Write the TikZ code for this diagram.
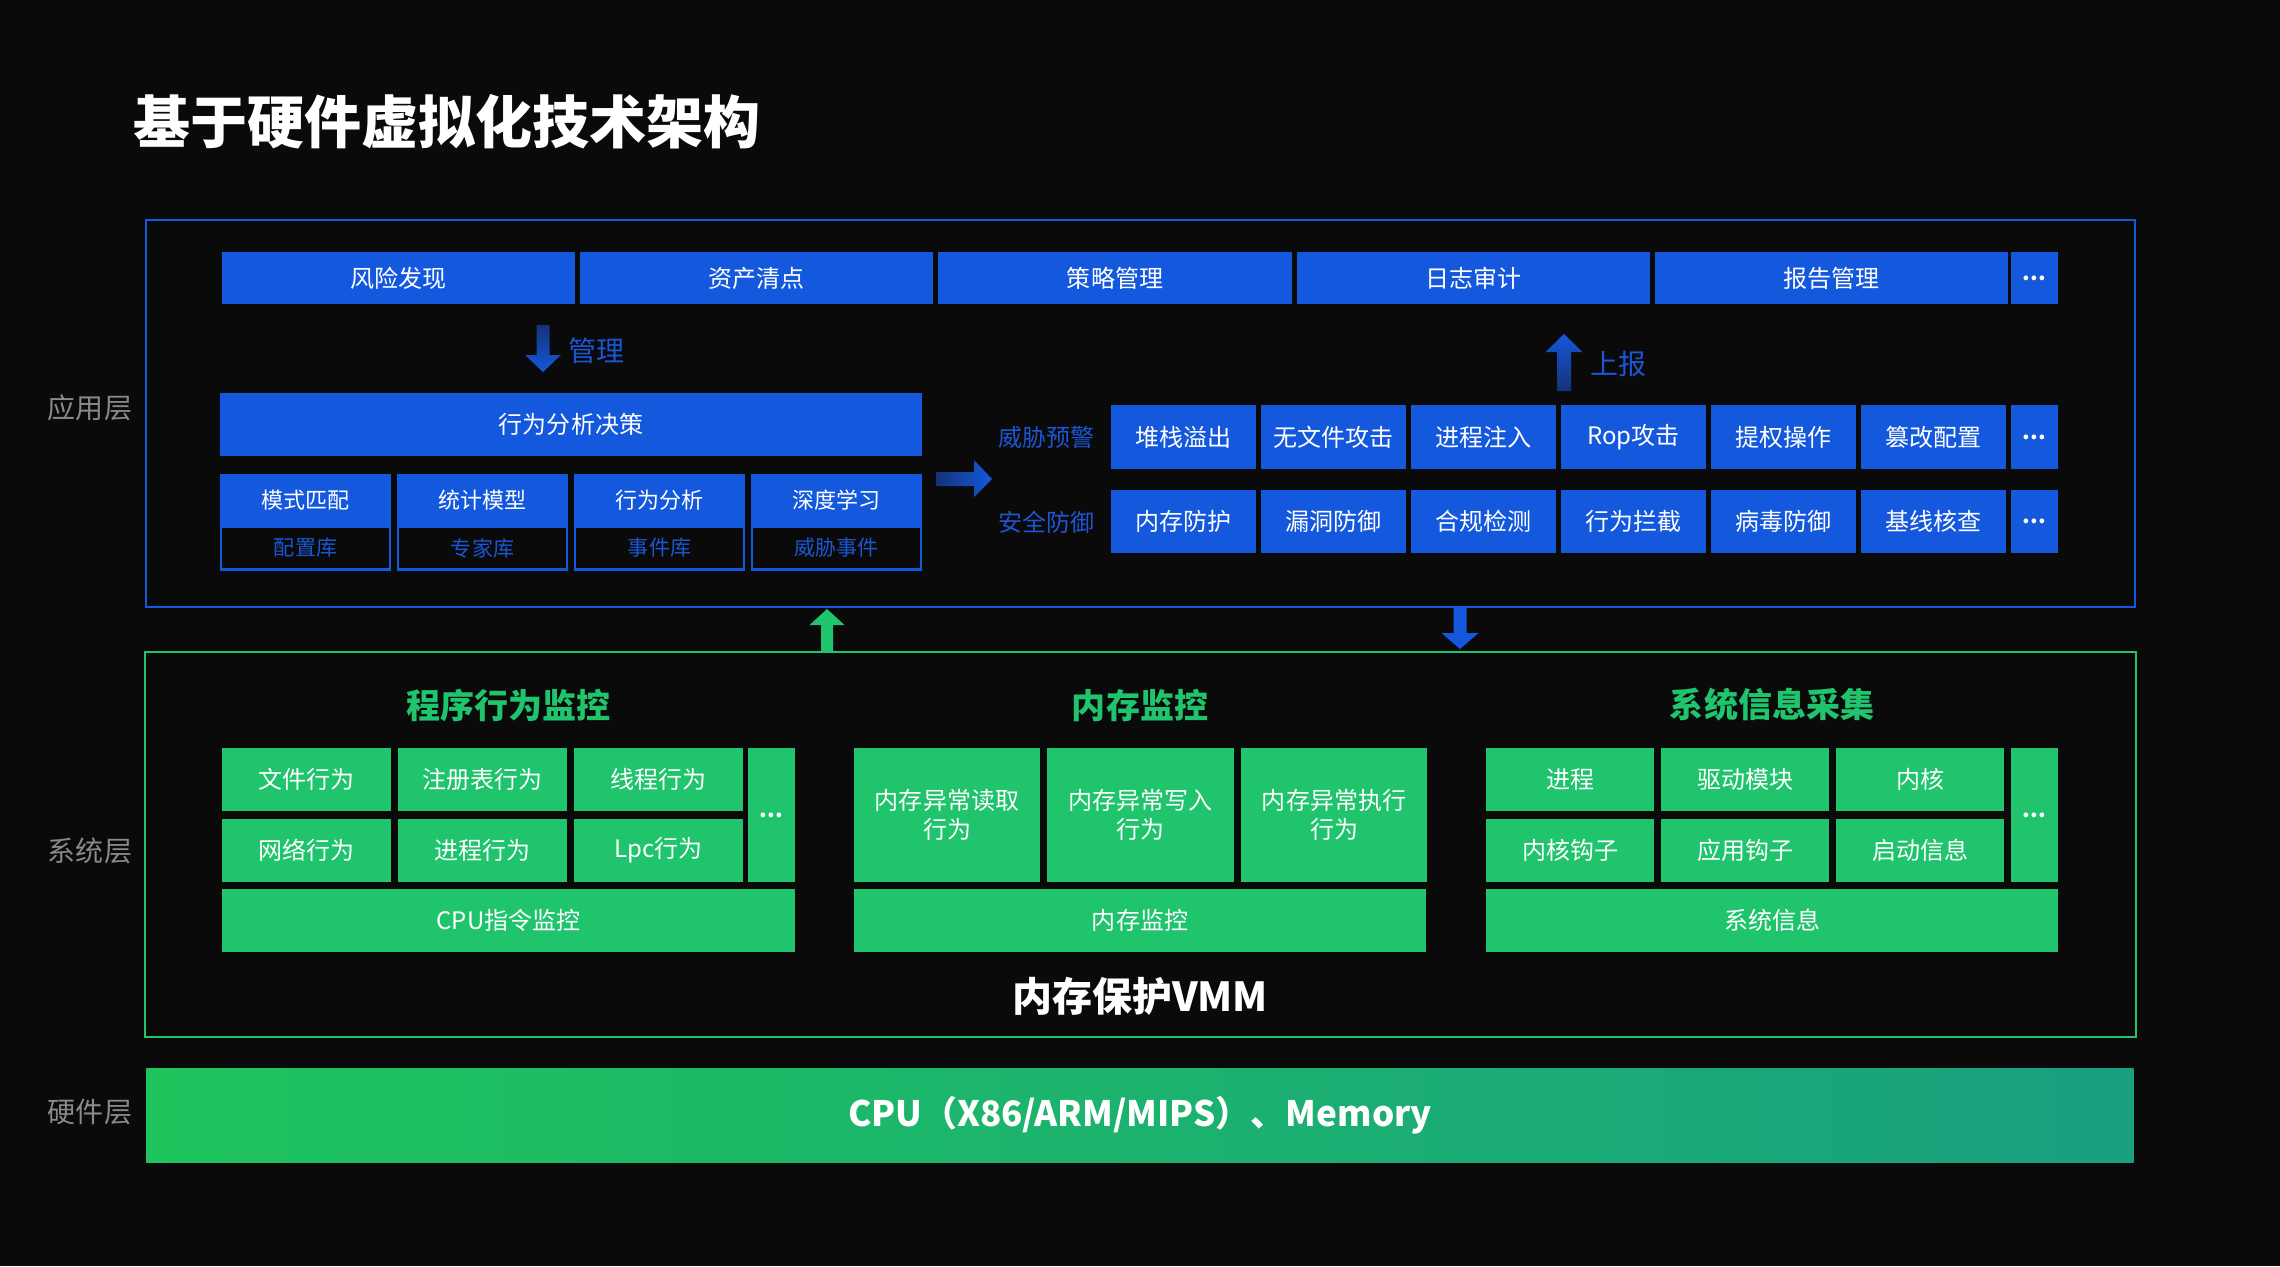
\documentclass[tikz,border=0pt]{standalone}
\usepackage{fontspec}
\setmainfont{Noto Sans CJK SC}
\usepackage{tikz}

\definecolor{azul}{RGB}{20,88,221}
\definecolor{azultexto}{RGB}{28,86,212}
\definecolor{azuloscuro}{RGB}{22,50,120}
\definecolor{verde}{RGB}{31,196,108}
\definecolor{verdeA}{RGB}{31,196,92}
\definecolor{verdeB}{RGB}{24,160,128}
\definecolor{fondo}{RGB}{10,10,10}
\definecolor{gris}{RGB}{138,138,138}

%tamano de letra en pixeles de la imagen
\newcommand{\px}[1]{\fontsize{\fpeval{#1*0.2845}pt}{\fpeval{#1*0.3414}pt}\selectfont}

\begin{document}
\begin{tikzpicture}[x=0.01cm,y=-0.01cm,
  caja/.style={fill=azul,text=white,inner sep=0pt,font=\px{24}},
  cajaverde/.style={fill=verde,text=white,inner sep=0pt,font=\px{24},align=center},
  puntos/.style={font=\bfseries\px{22},text depth=0pt},
  etiqueta/.style={text=azultexto,inner sep=0pt,font=\px{24}},
  capa/.style={text=gris,inner sep=0pt,font=\px{28}},
  seccion/.style={text=verde,inner sep=0pt,font=\bfseries\px{34}}]

%fondo negro de toda la lamina
\fill[fondo] (0,0) rectangle (2280,1266);
\useasboundingbox (0,0) rectangle (2280,1266);

%Titulo
\node[anchor=west,text=white,inner sep=0pt,font=\bfseries\px{57}] (titulo) at (133,122) {基于硬件虚拟化技术架构};

%Nombre de cada capa
\node[capa] (capaapp) at (90,408) {应用层};
\node[capa] (capasis) at (90,851) {系统层};
\node[capa] (capahw) at (90,1112) {硬件层};

%Marco de la capa de aplicacion
\node[draw=azul,line width=0.6pt,minimum width=19.87cm,minimum height=3.87cm] (marcoapp) at (1140.5,413.5) {};

%Fila superior de gestion
\foreach \t [count=\i from 0] in {风险发现,资产清点,策略管理,日志审计,报告管理}
	\node[caja,minimum width=3.53cm,minimum height=0.52cm] (sup\i) at (398.5+358.25*\i,278) {\t};
\node[caja,puntos,minimum width=0.47cm,minimum height=0.52cm] (supmas) at (2034.5,278) {...};

%Flecha de gestion hacia abajo
\shade[top color=azuloscuro,bottom color=azul] (536.5,325) -- (549.5,325) -- (549.5,355) -- (561,355) -- (543,372) -- (525,355) -- (536.5,355) -- cycle;
\node[etiqueta,anchor=west,font=\px{28}] (gestion) at (568,351) {管理};

%Bloque de decision
\node[caja,minimum width=7.02cm,minimum height=0.63cm] (decision) at (571,424.5) {行为分析决策};

%Modelos con su base debajo
\foreach \t/\b [count=\i from 0] in {模式匹配/配置库,统计模型/专家库,行为分析/事件库,深度学习/威胁事件}{
	\node[draw=azul,line width=0.6pt,inner sep=0pt,minimum width=1.69cm,minimum height=0.43cm,text=azultexto,font=\px{21}] (base\i) at (305.5+177*\i,548) {\b};
	\node[caja,font=\px{22},minimum width=1.71cm,minimum height=0.53cm] (modelo\i) at (305.5+177*\i,500.5) {\t};
}

%Flecha hacia la derecha
\shade[left color=azuloscuro,right color=azul] (936,472) -- (974,472) -- (974,460) -- (992,479) -- (974,497) -- (974,486) -- (936,486) -- cycle;

%Amenazas y defensas
\node[etiqueta,anchor=east] (alerta) at (1095,437) {威胁预警};
\node[etiqueta,anchor=east] (defensa) at (1095,522) {安全防御};
\foreach \t [count=\i from 0] in {堆栈溢出,无文件攻击,进程注入,Rop攻击,提权操作,篡改配置}
	\node[caja,minimum width=1.45cm,minimum height=0.64cm] (ame\i) at (1183.5+150*\i,437) {\t};
\node[caja,puntos,minimum width=0.47cm,minimum height=0.64cm] (amemas) at (2034.5,437) {...};
\foreach \t [count=\i from 0] in {内存防护,漏洞防御,合规检测,行为拦截,病毒防御,基线核查}
	\node[caja,minimum width=1.45cm,minimum height=0.63cm] (def\i) at (1183.5+150*\i,521.5) {\t};
\node[caja,puntos,minimum width=0.47cm,minimum height=0.63cm] (defmas) at (2034.5,521.5) {...};

%Flecha de reporte hacia arriba
\shade[top color=azul,bottom color=azuloscuro] (1564,334) -- (1582.5,352) -- (1571,352) -- (1571,391) -- (1557,391) -- (1557,352) -- (1545.5,352) -- cycle;
\node[etiqueta,anchor=west,font=\px{28}] (reporte) at (1590,364) {上报};

%Marco de la capa de sistema
\node[draw=verde,line width=0.6pt,minimum width=19.89cm,minimum height=3.85cm] (marcosis) at (1140.5,844.5) {};

%Flechas entre capas
\fill[verde] (827,609) -- (844.5,625) -- (833,625) -- (833,652) -- (821,652) -- (821,625) -- (809.5,625) -- cycle;
\fill[azul] (1453.5,607) -- (1466.5,607) -- (1466.5,633) -- (1478.5,633) -- (1460,649) -- (1441.5,633) -- (1453.5,633) -- cycle;

%Titulos de seccion
\node[seccion] (programa) at (508.5,705) {程序行为监控};
\node[seccion] (memoria) at (1140,705) {内存监控};
\node[seccion] (sistema) at (1772,705) {系统信息采集};

%Monitoreo del programa
\foreach \t [count=\i from 0] in {文件行为,注册表行为,线程行为}
	\node[cajaverde,minimum width=1.69cm,minimum height=0.63cm] (progA\i) at (306.5+176*\i,779.5) {\t};
\foreach \t [count=\i from 0] in {网络行为,进程行为,Lpc行为}
	\node[cajaverde,minimum width=1.69cm,minimum height=0.63cm] (progB\i) at (306.5+176*\i,850.5) {\t};
\node[cajaverde,puntos,minimum width=0.47cm,minimum height=1.34cm] (progmas) at (771.5,815) {...};
\node[cajaverde,minimum width=5.73cm,minimum height=0.63cm] (cpu) at (508.5,920.5) {CPU指令监控};

%Monitoreo de memoria
\foreach \t [count=\i from 0] in {内存异常读取\\行为,内存异常写入\\行为,内存异常执行\\行为}
	\node[cajaverde,minimum width=1.86cm,minimum height=1.34cm] (mem\i) at (947+193.5*\i,815) {\t};
\node[cajaverde,minimum width=5.72cm,minimum height=0.63cm] (memmon) at (1140,920.5) {内存监控};

%Informacion del sistema
\foreach \t [count=\i from 0] in {进程,驱动模块,内核}
	\node[cajaverde,minimum width=1.68cm,minimum height=0.63cm] (sisA\i) at (1570+175*\i,779.5) {\t};
\foreach \t [count=\i from 0] in {内核钩子,应用钩子,启动信息}
	\node[cajaverde,minimum width=1.68cm,minimum height=0.63cm] (sisB\i) at (1570+175*\i,850.5) {\t};
\node[cajaverde,puntos,minimum width=0.47cm,minimum height=1.34cm] (sismas) at (2034.5,815) {...};
\node[cajaverde,minimum width=5.72cm,minimum height=0.63cm] (sisinfo) at (1772,920.5) {系统信息};

%VMM
\node[text=white,inner sep=0pt,font=\bfseries\px{40}] (vmm) at (1140,996) {内存保护VMM};

%Capa de hardware
\node[left color=verdeA,right color=verdeB,text=white,inner sep=0pt,font=\bfseries\px{35},minimum width=19.86cm,minimum height=0.94cm] (hardware) at (1140,1115) {CPU（X86/ARM/MIPS）、Memory};
\end{tikzpicture}
\end{document}
